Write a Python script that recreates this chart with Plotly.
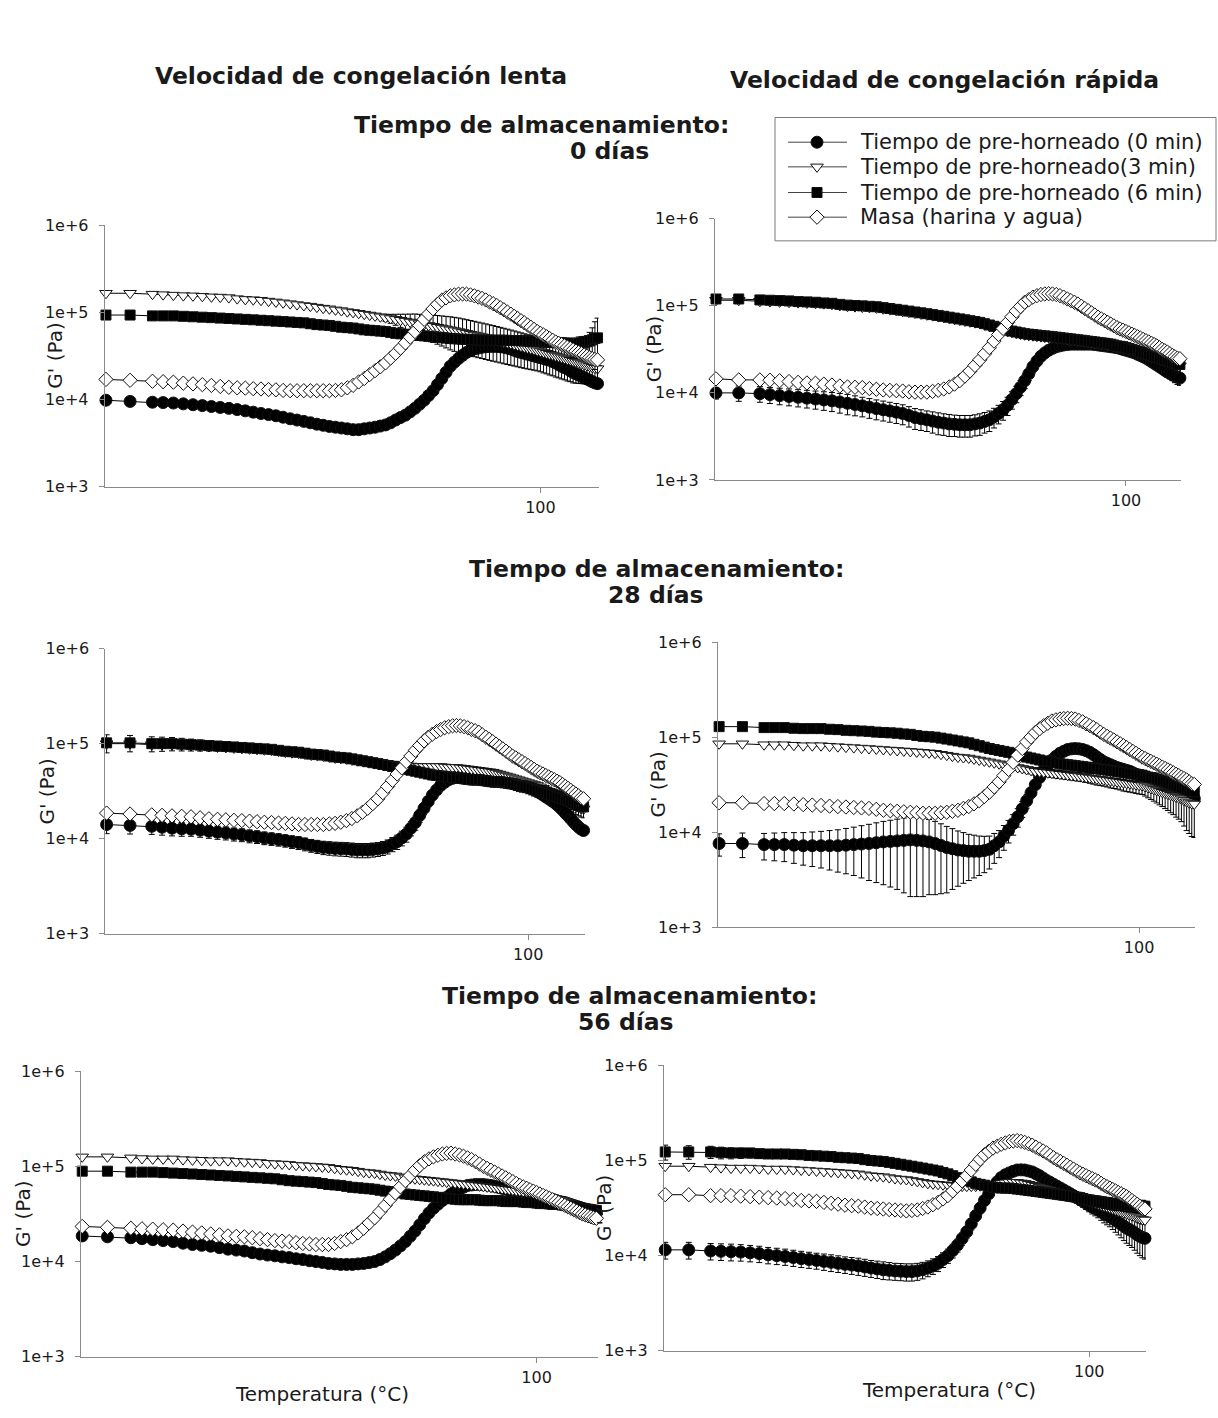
import math
import plotly.graph_objects as go

# Temperatura (°C) de cada lectura del barrido
temperatura = [25, 27, 29, 30, 31, 32, 33, 34, 35, 36,
               37, 38, 39, 40, 41, 42, 43, 44, 45, 46,
               47, 48, 49, 50, 51, 52, 53, 54, 55, 56,
               57, 58, 59, 60, 61, 62, 63, 64, 65, 66,
               67, 68, 69, 70, 71, 72, 73, 74, 75, 76,
               77, 78, 79, 80, 81, 82, 83, 84, 85, 86,
               87, 88, 89, 90, 91, 92, 93, 94, 95, 96,
               97, 98, 99, 100, 101, 102, 103, 104, 105, 106,
               107, 108, 109, 110, 111, 112, 113, 114, 115, 116,
               117, 118, 119, 120]

# Valores de G' en kPa (se pasan a Pa al dibujar)

# ---- congelación lenta, 0 días ----
lenta_0d_0min = [9.8, 9.5, 9.3, 9.2, 9.1, 8.9, 8.7, 8.5, 8.3, 8.1,
                 7.9, 7.65, 7.4, 7.15, 6.9, 6.7, 6.5, 6.25, 6.0, 5.8,
                 5.6, 5.4, 5.2, 5.05, 4.9, 4.8, 4.7, 4.6, 4.5, 4.5,
                 4.6, 4.7, 4.8, 4.95, 5.1, 5.4, 5.8, 6.2, 6.6, 7.2,
                 7.9, 8.8, 9.8, 11.1, 12.6, 14.8, 17.4, 20.5, 24.0, 26.8,
                 29.5, 32.1, 34.7, 36.4, 38.0, 38.9, 39.8, 40.3, 40.7, 40.7,
                 40.7, 40.3, 39.8, 38.9, 38.0, 36.7, 35.5, 34.7, 33.9, 33.1,
                 32.4, 31.6, 30.9, 30.2, 29.5, 28.8, 28.2, 27.2, 26.3, 25.1,
                 24.0, 23.2, 22.4, 21.4, 20.4, 19.7, 19.1, 18.4, 17.8, 17.2,
                 16.6, 16.0, 15.5, 15.2]
lenta_0d_3min = [166, 166, 162, 160, 158, 156, 155, 153, 151, 150,
                 148, 144, 141, 140, 138, 135, 132, 129, 126, 123,
                 120, 118, 115, 112, 110, 107, 105, 102, 100, 97.7,
                 95.5, 93.3, 91.2, 89.1, 87.1, 85.1, 83.2, 81.3, 79.4, 77.6,
                 75.9, 74.1, 72.4, 70.8, 69.2, 67.6, 66.1, 64.6, 63.1, 61.7,
                 60.3, 58.9, 57.5, 56.2, 55.0, 53.7, 52.5, 51.3, 50.1, 49.0,
                 47.9, 46.8, 45.7, 44.7, 43.7, 42.7, 41.7, 40.7, 39.8, 38.9,
                 38.0, 37.2, 36.3, 35.5, 34.7, 33.9, 33.1, 32.4, 31.6, 30.9,
                 30.2, 29.5, 28.8, 28.2, 27.5, 26.9, 26.3, 25.7, 25.1, 24.5,
                 24.0, 23.4, 22.9, 22.6]
lenta_0d_6min = [93.3, 93.3, 91.2, 91.2, 91.2, 90.2, 89.1, 88.1, 87.1, 86.1,
                 85.1, 84.1, 83.2, 82.2, 81.3, 80.3, 79.4, 78.5, 77.6, 76.7,
                 75.9, 74.1, 72.4, 71.6, 70.8, 69.2, 67.6, 66.8, 66.1, 64.6,
                 63.1, 62.4, 61.7, 61.0, 60.3, 58.9, 57.5, 56.8, 56.2, 55.6,
                 55.0, 54.3, 53.7, 53.1, 52.5, 51.9, 51.3, 50.7, 50.1, 49.8,
                 49.5, 49.2, 49.0, 48.7, 48.5, 48.2, 48.0, 47.9, 47.9, 47.9,
                 47.9, 47.9, 47.9, 47.7, 47.5, 47.5, 47.5, 47.2, 47.0, 46.9,
                 46.8, 46.6, 46.5, 46.2, 46.0, 45.8, 45.7, 45.4, 45.2, 44.9,
                 44.7, 44.4, 44.2, 44.2, 44.2, 44.2, 44.2, 44.6, 45.0, 46.0,
                 47.0, 48.5, 50.1, 51.0]
lenta_0d_masa = [17.0, 16.6, 16.2, 16.0, 15.8, 15.4, 15.1, 14.8, 14.5, 14.1,
                 13.8, 13.6, 13.5, 13.3, 13.2, 13.0, 12.9, 12.7, 12.6, 12.6,
                 12.6, 12.6, 12.6, 12.6, 12.6, 12.7, 12.9, 13.6, 14.5, 15.9,
                 17.4, 19.3, 21.4, 23.7, 26.3, 29.9, 33.9, 38.9, 44.7, 51.9,
                 60.3, 70.8, 83.2, 96.0, 110, 124, 138, 147, 155, 159,
                 162, 163, 162, 159, 155, 150, 145, 139, 132, 126,
                 120, 113, 107, 101, 95.5, 90.2, 85.1, 80.3, 75.9, 71.6,
                 67.6, 63.8, 60.3, 57.5, 55.0, 52.5, 50.1, 47.9, 45.7, 44.2,
                 42.7, 41.2, 39.8, 38.5, 37.2, 35.9, 34.7, 33.5, 32.4, 31.3,
                 30.2, 29.5, 28.8, 28.5]
err_lenta_0d_3min = [0, 0, 0, 0, 0, 0, 0, 0, 0, 0,
                     0, 0, 0, 0, 0, 0, 0, 0, 0, 0,
                     0, 0, 0, 0, 0, 0, 0, 0, 0, 0,
                     0, 0, 0, 4, 8, 10, 12, 14, 16, 18,
                     20, 21, 22, 23, 24, 24.5, 25, 25.5, 26, 26,
                     26, 25.5, 25, 24.5, 24, 23.5, 23, 22.5, 22, 21.5,
                     21, 20.5, 20, 19.5, 19, 18.5, 18, 17.5, 17, 16.5,
                     16, 15.5, 15, 14.7, 14.5, 14.2, 14, 13.7, 13.5, 13.2,
                     13, 12.7, 12.5, 12.2, 12, 11.5, 11, 10.5, 10, 9.5,
                     9, 8.7, 8.5, 8.3]
err_lenta_0d_6min = [0, 0, 0, 0, 0, 0, 0, 0, 0, 0,
                     0, 0, 0, 0, 0, 0, 0, 0, 0, 0,
                     0, 0, 0, 0, 0, 0, 0, 0, 0, 0,
                     0, 0, 0, 0, 0, 0, 0, 0, 0, 0,
                     0, 0, 0, 0, 0, 0, 0, 0, 0, 0,
                     0, 0, 0, 0, 0, 0, 0, 0, 0, 0,
                     0, 0, 0, 0, 0, 0, 0, 0, 0, 0,
                     0, 0, 0, 0, 6, 6, 6, 6, 6, 6,
                     6, 6, 6, 6, 6, 6, 8, 8, 8, 8,
                     12, 18, 28, 35]

# ---- congelación rápida, 0 días ----
rapida_0d_0min = [10.0, 10.0, 9.8, 9.55, 9.3, 9.1, 8.9, 8.7, 8.5, 8.3,
                  8.1, 7.85, 7.6, 7.35, 7.1, 6.85, 6.6, 6.4, 6.2, 6.0,
                  5.8, 5.5, 5.2, 5.05, 4.9, 4.75, 4.6, 4.5, 4.4, 4.35,
                  4.3, 4.3, 4.3, 4.4, 4.5, 4.7, 4.9, 5.3, 5.8, 6.4,
                  7.2, 8.4, 9.8, 11.6, 13.8, 16.6, 20.0, 23.2, 26.3, 28.8,
                  30.9, 32.5, 33.9, 34.7, 35.5, 35.9, 36.3, 36.3, 36.3, 36.3,
                  36.3, 36.3, 36.3, 35.9, 35.5, 35.1, 34.7, 34.3, 33.9, 33.5,
                  33.1, 32.4, 31.6, 30.9, 30.2, 29.5, 28.8, 27.8, 26.9, 26.0,
                  25.1, 24.0, 22.9, 21.9, 20.9, 20.0, 19.1, 18.2, 17.4, 16.8,
                  16.2, 15.6, 15.1, 14.8]
rapida_0d_3min = [116, 116, 113, 112, 111, 110, 109, 108, 107, 106,
                  104, 101, 99.0, 98.0, 97.0, 95.9, 94.8, 92.6, 90.5, 88.4,
                  86.4, 84.4, 82.5, 80.7, 78.9, 77.1, 75.3, 73.6, 71.9, 70.3,
                  68.7, 67.1, 65.6, 64.1, 62.7, 60.6, 58.5, 56.5, 54.5, 52.7,
                  50.9, 49.7, 48.6, 47.5, 46.5, 45.9, 45.4, 44.8, 44.3, 43.8,
                  43.4, 42.9, 42.4, 41.9, 41.4, 40.9, 40.4, 39.9, 39.5, 39.0,
                  38.6, 38.1, 37.7, 37.3, 36.9, 36.5, 36.1, 35.6, 35.2, 34.4,
                  33.7, 33.3, 32.9, 32.1, 31.4, 30.7, 30.0, 29.3, 28.6, 28.0,
                  27.4, 26.7, 26.1, 25.5, 24.9, 24.3, 23.8, 23.2, 22.7, 22.2,
                  21.7, 21.2, 20.8, 20.5]
rapida_0d_6min = [120, 120, 117, 116, 115, 114, 112, 111, 110, 108,
                  107, 104, 102, 101, 100, 98.8, 97.7, 95.5, 93.3, 91.2,
                  89.1, 87.1, 85.1, 83.2, 81.3, 79.4, 77.6, 75.9, 74.1, 72.4,
                  70.8, 69.2, 67.6, 66.1, 64.6, 62.4, 60.3, 58.2, 56.2, 54.3,
                  52.5, 51.3, 50.1, 49.0, 47.9, 47.3, 46.8, 46.2, 45.7, 45.2,
                  44.7, 44.2, 43.7, 43.2, 42.7, 42.2, 41.7, 41.2, 40.7, 40.3,
                  39.8, 39.3, 38.9, 38.5, 38.0, 37.6, 37.2, 36.7, 36.3, 35.5,
                  34.7, 34.3, 33.9, 33.1, 32.4, 31.6, 30.9, 30.2, 29.5, 28.8,
                  28.2, 27.5, 26.9, 26.3, 25.7, 25.1, 24.5, 24.0, 23.4, 22.9,
                  22.4, 21.9, 21.4, 21.2]
rapida_0d_masa = [14.5, 14.1, 14.1, 14.0, 13.8, 13.5, 13.2, 13.0, 12.9, 12.6,
                  12.3, 12.0, 11.7, 11.6, 11.5, 11.2, 11.0, 10.8, 10.7, 10.6,
                  10.5, 10.3, 10.2, 10.2, 10.2, 10.4, 10.7, 11.1, 11.7, 12.6,
                  13.8, 15.6, 17.8, 20.7, 24.0, 28.2, 33.1, 39.4, 46.8, 55.0,
                  64.6, 75.0, 87.1, 98.0, 110, 118, 126, 131, 135, 137,
                  138, 137, 135, 131, 126, 120, 115, 110, 105, 99.0,
                  93.3, 88.1, 83.2, 78.5, 74.1, 70.8, 67.6, 64.6, 61.7, 58.9,
                  56.2, 54.3, 52.5, 50.7, 49.0, 47.3, 45.7, 44.2, 42.7, 41.2,
                  39.8, 38.5, 37.2, 35.9, 34.7, 33.1, 31.6, 30.5, 29.5, 28.2,
                  26.9, 26.0, 25.1, 24.7]
err_rapida_0d_0min = [1.5, 2.0, 2.0, 2.0, 2.0, 2.0, 2.0, 2.0, 2.0, 2.0,
                      2.0, 2.0, 2.0, 1.9, 1.8, 1.75, 1.7, 1.65, 1.6, 1.55,
                      1.5, 1.45, 1.4, 1.35, 1.3, 1.3, 1.3, 1.25, 1.25, 1.2,
                      1.2, 1.2, 1.2, 1.2, 1.25, 1.25, 1.3, 1.35, 1.4, 1.55,
                      1.7, 1.9, 2.1, 2.3, 2.6, 2.8, 3.0, 3.1, 3.2, 3.1,
                      3.0, 2.7, 2.5, 2.2, 2.0, 2.0, 2.0, 2.0, 2.0, 2.0,
                      2.0, 2.0, 2.0, 2.0, 2.0, 2.0, 2.0, 2.0, 2.0, 2.0,
                      2.0, 2.0, 2.0, 2.0, 2.0, 2.0, 2.0, 2.0, 2.0, 2.0,
                      2.0, 2.0, 2.0, 2.0, 2.0, 2.0, 2.1, 2.1, 2.2, 2.3,
                      2.4, 2.5, 2.6, 2.6]

# ---- congelación lenta, 28 días ----
lenta_28d_0min = [14.1, 13.8, 13.5, 13.2, 12.9, 12.7, 12.6, 12.3, 12.0, 11.7,
                  11.5, 11.2, 11.0, 10.7, 10.5, 10.2, 10.0, 9.8, 9.55, 9.3,
                  9.1, 8.8, 8.5, 8.3, 8.1, 8.0, 7.9, 7.85, 7.8, 7.7,
                  7.6, 7.6, 7.6, 7.7, 7.8, 8.0, 8.3, 8.8, 9.3, 10.2,
                  11.2, 12.9, 14.8, 17.6, 20.9, 24.7, 28.8, 32.6, 36.3, 39.2,
                  41.7, 43.2, 44.7, 45.2, 45.7, 45.7, 45.7, 45.7, 45.7, 45.2,
                  44.7, 44.2, 43.7, 43.2, 42.7, 42.2, 41.7, 40.7, 39.8, 38.9,
                  38.0, 37.2, 36.3, 35.1, 33.9, 32.7, 31.6, 30.2, 28.8, 27.5,
                  26.3, 25.1, 24.0, 22.7, 21.4, 20.0, 18.6, 17.4, 16.2, 15.1,
                  14.1, 13.3, 12.6, 12.2]
lenta_28d_3min = [100, 100, 97.7, 97.7, 97.7, 96.6, 95.5, 94.4, 93.3, 92.3,
                  91.2, 90.2, 89.1, 88.1, 87.1, 86.1, 85.1, 83.2, 81.3, 80.3,
                  79.4, 77.6, 75.9, 75.0, 74.1, 72.4, 70.8, 70.0, 69.2, 67.6,
                  66.1, 65.3, 64.6, 63.8, 63.1, 62.4, 61.7, 61.0, 60.3, 59.6,
                  58.9, 58.2, 57.5, 57.5, 57.5, 57.5, 57.5, 57.5, 57.5, 56.8,
                  56.2, 56.2, 56.2, 55.6, 55.0, 54.3, 53.7, 53.1, 52.5, 51.9,
                  51.3, 50.7, 50.1, 49.0, 47.9, 46.8, 45.7, 44.7, 43.7, 42.7,
                  41.7, 40.7, 39.8, 38.9, 38.0, 37.2, 36.3, 35.1, 33.9, 32.7,
                  31.6, 30.5, 29.5, 28.5, 27.5, 26.6, 25.7, 24.8, 24.0, 23.2,
                  22.4, 21.6, 20.9, 20.6]
lenta_28d_6min = [102, 102, 100, 100, 100, 98.8, 97.7, 96.6, 95.5, 94.4,
                  93.3, 92.3, 91.2, 90.2, 89.1, 88.1, 87.1, 85.1, 83.2, 82.2,
                  81.3, 79.4, 77.6, 76.7, 75.9, 74.1, 72.4, 71.6, 70.8, 69.2,
                  67.6, 66.1, 64.6, 63.1, 61.7, 60.3, 58.9, 57.5, 56.2, 54.9,
                  53.7, 52.5, 51.3, 50.1, 49.0, 47.9, 46.8, 46.2, 45.7, 45.2,
                  44.7, 44.2, 43.7, 43.2, 42.7, 42.2, 41.7, 41.7, 41.7, 41.2,
                  40.7, 40.3, 39.8, 39.8, 39.8, 39.3, 38.9, 38.5, 38.0, 37.2,
                  36.3, 35.9, 35.5, 34.7, 33.9, 33.1, 32.4, 31.6, 30.9, 30.2,
                  29.5, 28.8, 28.2, 27.5, 26.9, 26.3, 25.7, 25.1, 24.5, 23.7,
                  22.9, 22.4, 21.9, 21.6]
lenta_28d_masa = [18.6, 18.2, 17.8, 17.6, 17.4, 17.2, 17.0, 16.6, 16.2, 16.0,
                  15.8, 15.6, 15.5, 15.3, 15.1, 14.9, 14.8, 14.6, 14.5, 14.3,
                  14.1, 14.1, 14.1, 14.1, 14.1, 14.3, 14.5, 14.9, 15.5, 16.3,
                  17.4, 19.0, 20.9, 23.4, 26.3, 30.5, 35.5, 41.2, 47.9, 55.6,
                  64.6, 74.1, 85.1, 95.5, 107, 117, 126, 134, 141, 147,
                  151, 154, 155, 154, 151, 147, 141, 137, 132, 124,
                  117, 111, 105, 98.8, 93.3, 88.1, 83.2, 78.5, 74.1, 70.8,
                  67.6, 64.6, 61.7, 58.9, 56.2, 53.7, 51.3, 49.5, 47.9, 46.2,
                  44.7, 43.2, 41.7, 40.3, 38.9, 37.2, 35.5, 33.9, 32.4, 30.9,
                  29.5, 28.2, 26.9, 26.3]
err_lenta_28d_0min = [2.8, 2.6, 2.4, 2.3, 2.2, 2.1, 2.0, 1.95, 1.9, 1.85,
                      1.8, 1.75, 1.7, 1.65, 1.6, 1.55, 1.5, 1.45, 1.4, 1.4,
                      1.4, 1.35, 1.3, 1.3, 1.3, 1.3, 1.3, 1.3, 1.3, 1.3,
                      1.3, 1.3, 1.3, 1.3, 1.3, 1.35, 1.4, 1.5, 1.6, 1.8,
                      2.0, 2.2, 2.5, 2.7, 3.0, 3.1, 3.2, 3.1, 3.0, 2.7,
                      2.5, 2.0, 1.5, 1.5, 1.5, 1.5, 1.5, 1.5, 1.5, 1.5,
                      1.5, 1.5, 1.5, 1.5, 1.5, 1.5, 1.5, 1.5, 1.5, 1.5,
                      1.5, 1.5, 1.5, 1.5, 1.5, 1.5, 1.5, 1.5, 1.5, 1.5,
                      1.5, 1.5, 1.5, 1.5, 1.5, 1.5, 1.5, 1.5, 1.5, 1.5,
                      1.5, 1.5, 1.5, 1.5]
err_lenta_28d_6min = [22, 20, 18, 17, 16, 15, 14, 13, 12, 11,
                      10, 9.5, 9, 8.5, 8, 7.5, 7, 6.5, 6, 6,
                      5, 5, 5, 5, 5, 5, 5, 5, 5, 5,
                      5, 5, 5, 5, 5, 5, 5, 5, 5, 5,
                      5, 5, 5, 5, 5, 5, 5, 5, 5, 5,
                      5, 5, 5, 5, 5, 5, 5, 5, 5, 5,
                      5, 5, 5, 5, 5, 5, 5, 5, 5, 5,
                      5, 5, 5, 5, 5, 5, 5, 5, 5, 5,
                      5, 5, 5, 5, 5, 5, 5, 5, 5, 5,
                      5, 5, 5, 5]

# ---- congelación rápida, 28 días ----
rapida_28d_0min = [7.6, 7.6, 7.4, 7.4, 7.4, 7.3, 7.2, 7.2, 7.2, 7.2,
                   7.2, 7.3, 7.4, 7.5, 7.6, 7.75, 7.9, 8.0, 8.1, 8.2,
                   8.3, 8.2, 8.1, 7.9, 7.6, 7.25, 6.9, 6.7, 6.5, 6.4,
                   6.3, 6.3, 6.3, 6.4, 6.6, 7.2, 7.9, 9.1, 10.5, 12.3,
                   14.5, 17.6, 21.4, 26.0, 31.6, 37.6, 44.7, 51.0, 57.5, 62.8,
                   67.6, 71.0, 74.1, 75.3, 75.9, 75.3, 74.1, 72.0, 69.2, 65.5,
                   61.7, 58.2, 55.0, 53.1, 51.3, 49.5, 47.9, 46.8, 45.7, 44.7,
                   43.7, 42.2, 40.7, 39.8, 38.9, 37.6, 36.3, 35.1, 33.9, 32.7,
                   31.6, 30.5, 29.5, 28.8, 28.2, 27.2, 26.3, 25.7, 25.1, 24.5,
                   24.0, 23.4, 22.9, 22.6]
rapida_28d_3min = [85.1, 85.1, 83.2, 83.2, 83.2, 82.2, 81.3, 81.3, 81.3, 80.3,
                   79.4, 78.5, 77.6, 76.7, 75.9, 75.0, 74.1, 73.2, 72.4, 71.6,
                   70.8, 70.0, 69.2, 68.4, 67.6, 66.1, 64.6, 63.1, 61.7, 61.0,
                   60.3, 58.9, 57.5, 56.2, 55.0, 53.7, 52.5, 51.3, 50.1, 49.0,
                   47.9, 46.8, 45.7, 44.7, 43.7, 43.2, 42.7, 42.2, 41.7, 41.2,
                   40.7, 40.3, 39.8, 39.3, 38.9, 38.5, 38.0, 37.6, 37.2, 36.7,
                   36.3, 35.9, 35.5, 35.1, 34.7, 34.3, 33.9, 33.5, 33.1, 32.7,
                   32.4, 32.0, 31.6, 31.2, 30.9, 30.2, 29.5, 28.8, 28.2, 27.5,
                   26.9, 26.3, 25.7, 25.1, 24.5, 24.0, 23.4, 22.9, 22.4, 21.6,
                   20.9, 20.4, 20.0, 19.8]
rapida_28d_6min = [129, 129, 126, 126, 126, 124, 123, 123, 123, 121,
                   120, 118, 117, 116, 115, 113, 112, 111, 110, 108,
                   107, 104, 102, 101, 100, 97.7, 95.5, 93.3, 91.2, 89.1,
                   87.1, 84.1, 81.3, 78.5, 75.9, 74.1, 72.4, 70.8, 69.2, 67.6,
                   66.1, 63.8, 61.7, 60.3, 58.9, 57.5, 56.2, 55.6, 55.0, 53.7,
                   52.5, 51.9, 51.3, 50.7, 50.1, 49.5, 49.0, 48.4, 47.9, 47.3,
                   46.8, 46.2, 45.7, 45.2, 44.7, 44.2, 43.7, 43.2, 42.7, 42.2,
                   41.7, 41.2, 40.7, 40.3, 39.8, 38.9, 38.0, 37.6, 37.2, 36.3,
                   35.5, 34.7, 33.9, 33.1, 32.4, 31.6, 30.9, 30.2, 29.5, 28.8,
                   28.2, 27.5, 26.9, 26.6]
rapida_28d_masa = [20.4, 20.4, 20.0, 20.0, 20.0, 19.8, 19.5, 19.3, 19.1, 18.8,
                   18.6, 18.4, 18.2, 18.0, 17.8, 17.4, 17.0, 16.8, 16.6, 16.4,
                   16.2, 16.0, 15.8, 15.8, 15.8, 16.0, 16.2, 16.6, 17.0, 17.8,
                   18.6, 19.9, 21.4, 23.7, 26.3, 29.9, 33.9, 39.4, 45.7, 54.3,
                   64.6, 75.9, 89.1, 100, 112, 122, 132, 140, 148, 152,
                   155, 157, 158, 157, 155, 150, 145, 138, 132, 126,
                   120, 113, 107, 102, 97.7, 93.3, 89.1, 85.1, 81.3, 77.6,
                   74.1, 70.8, 67.6, 64.6, 61.7, 59.6, 57.5, 55.6, 53.7, 51.9,
                   50.1, 48.4, 46.8, 45.2, 43.7, 42.2, 40.7, 39.4, 38.0, 36.7,
                   35.5, 33.9, 32.4, 31.8]
err_rapida_28d_0min = [2.0, 2.2, 2.3, 2.4, 2.5, 2.6, 2.7, 2.85, 3.0, 3.2,
                       3.4, 3.65, 3.9, 4.2, 4.5, 4.8, 5.1, 5.35, 5.6, 5.9,
                       6.2, 6.1, 6.0, 5.7, 5.4, 5.0, 4.6, 4.2, 3.8, 3.5,
                       3.2, 3.0, 2.8, 2.65, 2.5, 2.5, 2.5, 2.65, 2.8, 3.0,
                       3.2, 3.35, 3.5, 3.5, 3.5, 3.25, 3.0, 2.75, 2.5, 2.75,
                       3.0, 3.25, 3.5, 3.75, 4.0, 4.0, 4.0, 3.75, 3.5, 3.25,
                       3.0, 3.0, 3.0, 3.0, 3.0, 3.0, 3.0, 3.0, 3.0, 3.0,
                       3.0, 3.0, 3.0, 3.0, 3.0, 3.0, 3.0, 3.0, 3.0, 3.0,
                       3.0, 3.0, 3.0, 3.0, 3.0, 3.0, 3.0, 3.0, 3.0, 3.0,
                       3.0, 3.0, 3.0, 3.0]
err_rapida_28d_3min = [2.0, 2.0, 2.0, 2.0, 2.0, 2.0, 2.0, 2.0, 2.0, 2.0,
                       2.0, 2.0, 2.0, 2.0, 2.0, 2.0, 2.0, 2.0, 2.0, 2.0,
                       2.0, 2.0, 2.0, 2.0, 2.0, 2.0, 2.0, 2.0, 2.0, 2.0,
                       2.0, 2.0, 2.0, 2.0, 2.0, 2.0, 2.0, 2.2, 2.5, 2.7,
                       3.0, 3.2, 3.5, 3.7, 4.0, 4.0, 4.0, 4.0, 4.0, 4.0,
                       4.0, 4.0, 4.0, 4.0, 4.0, 4.0, 4.0, 4.2, 4.5, 4.7,
                       5.0, 5.0, 5.0, 5.2, 5.5, 5.5, 5.5, 5.7, 6.0, 6.0,
                       6.0, 6.0, 6.0, 6.0, 6.0, 6.2, 6.5, 6.7, 7.0, 7.2,
                       7.5, 7.7, 8.0, 8.2, 8.5, 8.7, 9.0, 9.2, 9.5, 10.0,
                       10.5, 10.7, 11.0, 11.0]

# ---- congelación lenta, 56 días ----
lenta_56d_0min = [18.6, 18.2, 17.8, 17.4, 17.0, 16.6, 16.2, 15.6, 15.1, 14.8,
                  14.5, 14.0, 13.5, 13.2, 12.9, 12.4, 12.0, 11.7, 11.5, 11.2,
                  11.0, 10.7, 10.5, 10.2, 10.0, 9.8, 9.55, 9.45, 9.33, 9.33,
                  9.33, 9.45, 9.55, 9.75, 10.0, 10.5, 11.2, 12.1, 13.2, 14.6,
                  16.2, 18.4, 20.9, 24.3, 28.2, 32.4, 36.3, 40.0, 43.7, 47.5,
                  51.3, 54.3, 57.5, 60.3, 63.1, 63.8, 64.6, 64.6, 64.6, 63.8,
                  63.1, 61.7, 60.3, 58.9, 57.5, 56.2, 55.0, 53.7, 52.5, 51.9,
                  51.3, 50.1, 49.0, 48.4, 47.9, 46.8, 45.7, 45.2, 44.7, 43.7,
                  42.7, 42.2, 41.7, 40.7, 39.8, 38.9, 38.0, 37.2, 36.3, 35.5,
                  34.7, 33.9, 33.1, 32.7]
lenta_56d_3min = [126, 126, 123, 121, 120, 120, 120, 118, 117, 116,
                  115, 115, 115, 113, 112, 111, 110, 108, 107, 106,
                  105, 103, 102, 101, 100, 98.8, 97.7, 95.5, 93.3, 92.3,
                  91.2, 89.1, 87.1, 86.1, 85.1, 83.2, 81.3, 80.3, 79.4, 77.6,
                  75.9, 75.0, 74.1, 73.2, 72.4, 71.6, 70.8, 70.0, 69.2, 68.4,
                  67.6, 66.8, 66.1, 65.3, 64.6, 63.8, 63.1, 62.4, 61.7, 61.0,
                  60.3, 59.6, 58.9, 58.2, 57.5, 56.8, 56.2, 55.6, 55.0, 54.3,
                  53.7, 53.1, 52.5, 51.9, 51.3, 50.1, 49.0, 47.9, 46.8, 45.7,
                  44.7, 43.7, 42.7, 41.7, 40.7, 39.4, 38.0, 36.7, 35.5, 34.3,
                  33.1, 31.6, 30.2, 29.5]
lenta_56d_6min = [89.1, 89.1, 87.1, 87.1, 87.1, 86.1, 85.1, 84.1, 83.2, 82.2,
                  81.3, 80.3, 79.4, 78.5, 77.6, 76.7, 75.9, 75.0, 74.1, 72.4,
                  70.8, 70.0, 69.2, 68.4, 67.6, 66.1, 64.6, 63.8, 63.1, 61.7,
                  60.3, 59.6, 58.9, 58.2, 57.5, 56.2, 55.0, 54.3, 53.7, 52.5,
                  51.3, 50.7, 50.1, 49.5, 49.0, 48.4, 47.9, 47.3, 46.8, 46.2,
                  45.7, 45.2, 44.7, 44.7, 44.7, 44.7, 44.7, 44.2, 43.7, 43.7,
                  43.7, 43.7, 43.7, 43.2, 42.7, 42.7, 42.7, 42.7, 42.7, 42.2,
                  41.7, 41.7, 41.7, 41.2, 40.7, 40.7, 40.7, 40.3, 39.8, 39.8,
                  39.8, 39.3, 38.9, 38.5, 38.0, 37.6, 37.2, 36.7, 36.3, 35.9,
                  35.5, 35.1, 34.7, 34.5]
lenta_56d_masa = [23.4, 22.9, 22.4, 22.1, 21.9, 21.6, 21.4, 20.9, 20.4, 20.0,
                  19.5, 19.1, 18.6, 18.4, 18.2, 17.8, 17.4, 17.0, 16.6, 16.4,
                  16.2, 15.8, 15.5, 15.3, 15.1, 15.1, 15.1, 15.5, 16.2, 17.0,
                  18.2, 20.0, 22.4, 25.4, 28.8, 33.5, 38.9, 45.2, 52.5, 61.0,
                  70.8, 80.3, 91.2, 102, 112, 120, 126, 131, 135, 137,
                  138, 135, 132, 128, 123, 118, 112, 106, 100, 95.5,
                  91.2, 87.1, 83.2, 79.4, 75.9, 72.4, 69.2, 66.1, 63.1, 60.9,
                  58.9, 56.9, 55.0, 53.1, 51.3, 49.5, 47.9, 46.2, 44.7, 43.2,
                  41.7, 40.3, 38.9, 37.6, 36.3, 35.1, 33.9, 32.7, 31.6, 30.9,
                  30.2, 29.5, 28.8, 28.5]

# ---- congelación rápida, 56 días ----
rapida_56d_0min = [11.5, 11.5, 11.2, 11.1, 11.0, 10.9, 10.7, 10.5, 10.2, 10.0,
                   9.8, 9.55, 9.3, 9.1, 8.9, 8.7, 8.5, 8.3, 8.1, 7.95,
                   7.8, 7.6, 7.4, 7.25, 7.1, 7.0, 6.9, 6.85, 6.8, 6.8,
                   6.9, 7.1, 7.4, 7.8, 8.3, 9.1, 10.0, 11.3, 12.9, 15.1,
                   17.8, 21.6, 26.3, 31.6, 38.0, 44.7, 52.5, 59.6, 66.1, 70.8,
                   74.1, 77.0, 79.4, 79.7, 79.4, 77.6, 75.9, 72.4, 69.2, 65.3,
                   61.7, 58.9, 56.2, 53.7, 51.3, 49.0, 46.8, 44.7, 42.7, 40.7,
                   38.9, 37.2, 35.5, 33.9, 32.4, 31.3, 30.2, 28.8, 27.5, 26.6,
                   25.7, 24.5, 23.4, 22.4, 21.4, 20.4, 19.5, 18.8, 18.2, 17.4,
                   16.6, 16.0, 15.5, 15.2]
rapida_56d_3min = [87.1, 87.1, 85.1, 84.1, 83.2, 83.2, 83.2, 82.2, 81.3, 81.3,
                   81.3, 80.3, 79.4, 78.5, 77.6, 76.7, 75.9, 75.0, 74.1, 73.2,
                   72.4, 70.8, 69.2, 68.4, 67.6, 66.1, 64.6, 63.8, 63.1, 61.7,
                   60.3, 58.9, 57.5, 56.8, 56.2, 55.6, 55.0, 54.3, 53.7, 53.7,
                   53.7, 53.7, 53.7, 54.3, 55.0, 55.6, 56.2, 56.8, 57.5, 58.2,
                   58.9, 58.9, 58.9, 58.2, 57.5, 56.2, 55.0, 53.7, 52.5, 51.3,
                   50.1, 49.0, 47.9, 46.8, 45.7, 44.7, 43.7, 42.7, 41.7, 40.7,
                   39.8, 38.9, 38.0, 37.2, 36.3, 35.5, 34.7, 33.9, 33.1, 32.4,
                   31.6, 30.9, 30.2, 29.5, 28.8, 28.2, 27.5, 26.9, 26.3, 25.7,
                   25.1, 24.5, 24.0, 23.7]
rapida_56d_6min = [123, 123, 123, 121, 120, 120, 120, 118, 117, 117,
                   117, 116, 115, 113, 112, 111, 110, 108, 107, 106,
                   105, 102, 100, 98.8, 97.7, 95.5, 93.3, 91.2, 89.1, 87.1,
                   85.1, 83.2, 81.3, 79.4, 77.6, 74.9, 72.4, 69.2, 66.1, 63.8,
                   61.7, 59.6, 57.5, 56.2, 55.0, 53.7, 52.5, 51.9, 51.3, 51.3,
                   51.3, 50.7, 50.1, 49.5, 49.0, 48.4, 47.9, 47.3, 46.8, 46.2,
                   45.7, 45.2, 44.7, 44.2, 43.7, 43.2, 42.7, 42.2, 41.7, 41.2,
                   40.7, 39.8, 38.9, 38.5, 38.0, 37.6, 37.2, 36.7, 36.3, 35.9,
                   35.5, 35.1, 34.7, 34.7, 34.7, 34.3, 33.9, 33.9, 33.9, 33.5,
                   33.1, 33.1, 33.1, 33.1]
rapida_56d_masa = [43.7, 43.7, 42.7, 42.7, 42.7, 42.2, 41.7, 41.2, 40.7, 40.3,
                   39.8, 38.9, 38.0, 37.6, 37.2, 36.3, 35.5, 34.7, 33.9, 33.5,
                   33.1, 32.4, 31.6, 31.3, 30.9, 30.5, 30.2, 29.8, 29.5, 29.8,
                   30.2, 31.3, 32.4, 34.3, 36.3, 39.4, 42.7, 47.9, 53.7, 61.0,
                   69.2, 79.4, 91.2, 103, 115, 125, 135, 141, 148, 153,
                   158, 160, 162, 159, 155, 150, 145, 138, 132, 126,
                   120, 113, 107, 102, 97.7, 93.3, 89.1, 85.1, 81.3, 77.6,
                   74.1, 71.6, 69.2, 66.8, 64.6, 62.4, 60.3, 57.5, 55.0, 53.1,
                   51.3, 49.5, 47.9, 46.2, 44.7, 43.2, 41.7, 39.8, 38.0, 36.3,
                   34.7, 33.1, 31.6, 31.0]
err_rapida_56d_0min = [2.3, 2.3, 2.2, 2.2, 2.2, 2.15, 2.1, 2.05, 2.0, 1.95,
                       1.9, 1.85, 1.8, 1.75, 1.7, 1.7, 1.7, 1.65, 1.6, 1.6,
                       1.6, 1.55, 1.5, 1.5, 1.5, 1.45, 1.4, 1.4, 1.4, 1.4,
                       1.4, 1.4, 1.4, 1.45, 1.5, 1.6, 1.7, 1.85, 2.0, 2.25,
                       2.5, 3.0, 3.5, 4.0, 4.5, 4.75, 5.0, 5.0, 5.0, 5.0,
                       5.0, 5.0, 5.0, 5.0, 5.0, 5.0, 5.0, 5.0, 5.0, 5.0,
                       5.0, 5.0, 5.0, 5.0, 5.0, 5.0, 5.0, 5.0, 5.0, 5.0,
                       5.0, 5.0, 5.0, 5.0, 5.0, 5.1, 5.2, 5.3, 5.4, 5.5,
                       5.6, 5.7, 5.8, 5.9, 6.0, 6.0, 6.0, 6.0, 6.0, 6.0,
                       6.0, 6.0, 6.0, 6.0]
err_rapida_56d_6min = [22, 20, 18, 17, 16, 15, 14, 13, 12, 11,
                       10, 9.5, 9, 8.5, 8, 7.5, 7, 6.5, 6, 6,
                       5, 5, 5, 5, 5, 5, 5, 5, 5, 5,
                       5, 5, 5, 5, 5, 5, 5, 5, 5, 5,
                       5, 5, 5, 5, 5, 5, 5, 5, 5, 5,
                       5, 5, 5, 5, 5, 5, 5, 5, 5, 5,
                       5, 5, 5, 5, 5, 5, 5, 5, 5, 5,
                       5, 5, 5, 5, 5, 5, 5, 5, 5, 5,
                       5, 5, 5, 5, 5, 5, 5, 5, 5, 5,
                       5, 5, 5, 5]

nombres_series = ["Tiempo de pre-horneado (0 min)", "Tiempo de pre-horneado(3 min)",
                  "Tiempo de pre-horneado (6 min)", "Masa (harina y agua)"]
ticks_y = [1e3, 1e4, 1e5, 1e6]
ticks_y_texto = ["1e+3", "1e+4", "1e+5", "1e+6"]
ticks_x = [100]
ticks_x_texto = ["100"]
titulos_columna = ["Velocidad de congelación lenta", "Velocidad de congelación rápida"]
titulo_almacenamiento = "Tiempo de almacenamiento:"
dias = ["0 días", "28 días", "56 días"]
titulo_eje_x = "Temperatura (°C)"
titulo_eje_y = "G' (Pa)"

paneles = [
    ((lenta_0d_0min, lenta_0d_3min, lenta_0d_6min, lenta_0d_masa),
     (None, err_lenta_0d_3min, err_lenta_0d_6min, None)),
    ((rapida_0d_0min, rapida_0d_3min, rapida_0d_6min, rapida_0d_masa),
     (err_rapida_0d_0min, None, None, None)),
    ((lenta_28d_0min, lenta_28d_3min, lenta_28d_6min, lenta_28d_masa),
     (err_lenta_28d_0min, None, err_lenta_28d_6min, None)),
    ((rapida_28d_0min, rapida_28d_3min, rapida_28d_6min, rapida_28d_masa),
     (err_rapida_28d_0min, err_rapida_28d_3min, None, None)),
    ((lenta_56d_0min, lenta_56d_3min, lenta_56d_6min, lenta_56d_masa),
     (None, None, None, None)),
    ((rapida_56d_0min, rapida_56d_3min, rapida_56d_6min, rapida_56d_masa),
     (err_rapida_56d_0min, None, err_rapida_56d_6min, None)),
]

for series, errores in paneles:
    for s in series:
        assert len(s) == len(temperatura), len(s)
    for e in errores:
        assert e is None or len(e) == len(temperatura), len(e)


def a_pascal(valores_kpa):
    return [v * 1000 for v in valores_kpa]


# ---- estilo y geometría ----
W, H = 1218, 1418
FUENTE = "DejaVu Sans"
GRIS = "#8a8a8a"
TINTA = "#1a1a1a"

estilos = [
    dict(symbol="circle", size=12, color="black"),
    dict(symbol="triangle-down", size=11, color="white"),
    dict(symbol="square", size=10, color="black"),
    dict(symbol="diamond", size=11, color="white"),
]

# área de cada panel en píxeles: (izquierda, arriba, derecha, abajo)
cajas = [
    (104.7, 219.3, 598.6, 484.0),
    (714.8, 212.7, 1180.9, 477.3),
    (105.4, 648.3, 584.6, 937.3),
    (717.9, 641.7, 1195.3, 930.7),
    (80.9, 1076.7, 597.5, 1366.0),
    (664.0, 1070.7, 1146.0, 1360.0),
]
# separación del título "G' (Pa)" respecto al eje vertical
sep_titulo_y = [50, 60, 58, 60, 58, 60]


def px_x(x):
    return x / W


def px_y(y):
    return 1 - y / H


fig = go.Figure()

for i, (series, errores) in enumerate(paneles, start=1):
    for serie, err, est in zip(series, errores, estilos):
        tr = go.Scatter(
            x=temperatura, y=a_pascal(serie), mode="lines+markers",
            xaxis=f"x{i}", yaxis=f"y{i}",
            line=dict(color="black", width=1),
            marker=dict(symbol=est["symbol"], size=est["size"], color=est["color"],
                        line=dict(color="#111111", width=1)),
            cliponaxis=False, showlegend=False, hoverinfo="skip",
        )
        if err is not None:
            tr.error_y = dict(type="data", array=a_pascal(err), visible=True, color="black",
                              thickness=1, width=3)
        fig.add_trace(tr)

ejes = {}
for i, (x0, y0, x1, y1) in enumerate(cajas, start=1):
    comun = dict(showline=True, linecolor=GRIS, linewidth=1, ticks="outside", ticklen=5,
                 tickcolor=GRIS, tickwidth=1, showgrid=False, zeroline=False,
                 tickfont=dict(family=FUENTE, size=16, color=TINTA), fixedrange=True)
    ejes[f"xaxis{i}"] = dict(domain=[px_x(x0), px_x(x1)], anchor=f"y{i}", type="log",
                             range=[math.log10(24.9), math.log10(120.4)], tickmode="array",
                             tickvals=ticks_x, ticktext=ticks_x_texto,
                             ticklabelstandoff=1, **comun)
    ejes[f"yaxis{i}"] = dict(domain=[px_y(y1), px_y(y0)], anchor=f"x{i}", type="log",
                             range=[3, 6], tickmode="array", tickvals=ticks_y,
                             ticktext=ticks_y_texto, ticklabelstandoff=7, **comun)

# ---- leyenda dibujada en su propio recuadro ----
ley_x0, ley_y0, ley_x1, ley_y1 = 775, 110, 1216, 235
ejes["xaxis7"] = dict(domain=[px_x(ley_x0), px_x(ley_x1)], range=[0, ley_x1 - ley_x0],
                      visible=False, fixedrange=True, anchor="y7")
ejes["yaxis7"] = dict(domain=[px_y(ley_y1), px_y(ley_y0)], range=[ley_y1 - ley_y0, 0],
                      visible=False, fixedrange=True, anchor="x7")
filas_ley = [25, 50, 76, 101]
anotaciones = []
for fila, est, nombre in zip(filas_ley, estilos, nombres_series):
    fig.add_trace(go.Scatter(x=[13, 72], y=[fila, fila], mode="lines", xaxis="x7", yaxis="y7",
                             line=dict(color="#444444", width=1), showlegend=False,
                             hoverinfo="skip", cliponaxis=False))
    fig.add_trace(go.Scatter(x=[42], y=[fila], mode="markers", xaxis="x7", yaxis="y7",
                             marker=dict(symbol=est["symbol"], size=est["size"],
                                         color=est["color"], line=dict(color="#111111", width=1)),
                             showlegend=False, hoverinfo="skip", cliponaxis=False))
    anotaciones.append(dict(text=nombre, x=83, y=fila, xref="x7", yref="y7", xanchor="left",
                            yanchor="middle", showarrow=False,
                            font=dict(family=FUENTE, size=21, color=TINTA)))

formas = [dict(type="rect", xref="paper", yref="paper", x0=px_x(ley_x0), x1=px_x(ley_x1),
               y0=px_y(ley_y1), y1=px_y(ley_y0), line=dict(color="#7a7a7a", width=1),
               fillcolor="rgba(0,0,0,0)", layer="above")]


def texto(t, x, y, size, bold=False, angle=0):
    return dict(text=f"<b>{t}</b>" if bold else t, x=px_x(x), y=px_y(y), xref="paper",
                yref="paper", xanchor="center", yanchor="middle", showarrow=False,
                textangle=angle, font=dict(family=FUENTE, size=size, color=TINTA))


anotaciones += [
    texto(titulos_columna[0], 361, 67.5, 23.5, bold=True),
    texto(titulos_columna[1], 944, 72, 23.5, bold=True),
    texto(titulo_almacenamiento, 541, 118, 23.5, bold=True),
    texto(dias[0], 609, 144, 23.5, bold=True),
    texto(titulo_almacenamiento, 657, 568, 23.5, bold=True),
    texto(dias[1], 656, 594, 23.5, bold=True),
    texto(titulo_almacenamiento, 629, 1000, 23.5, bold=True),
    texto(dias[2], 626, 1027, 23.5, bold=True),
    texto(titulo_eje_x, 322, 1404, 20),
    texto(titulo_eje_x, 949, 1400, 20),
]
for (x0, y0, x1, y1), sep in zip(cajas, sep_titulo_y):
    anotaciones.append(texto(titulo_eje_y, x0 - sep, (y0 + y1) / 2, 20, angle=-90))

fig.update_layout(
    width=W, height=H, margin=dict(l=0, r=0, t=0, b=0),
    paper_bgcolor="white", plot_bgcolor="rgba(0,0,0,0)",
    showlegend=False, annotations=anotaciones, shapes=formas,
    font=dict(family=FUENTE, color=TINTA),
    **ejes,
)

fig.write_html("out.html", include_plotlyjs=True, config={"displayModeBar": False})
